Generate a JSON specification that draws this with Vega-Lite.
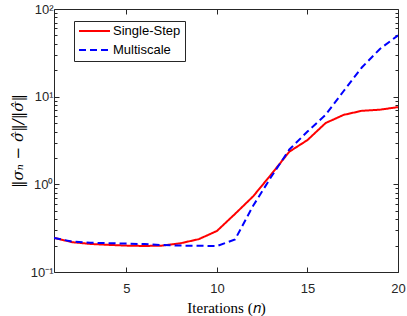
{
  "$schema": "https://vega.github.io/schema/vega-lite/v6.json",
  "width": 344,
  "height": 263,
  "autosize": {"type": "none"},
  "padding": {"left": 54, "top": 9, "right": 9, "bottom": 44},
  "background": "white",
  "config": {
    "view": {"stroke": "#262626", "strokeWidth": 1},
    "axis": {"grid": false, "domainColor": "#262626", "tickColor": "#262626", "labelColor": "#262626", "labelFont": "Liberation Sans", "labelFontSize": 13, "titleColor": "#000000", "titleFontWeight": "normal"}
  },
  "data": {"values": [
    {"n": 1, "series": "Single-Step", "value": 0.245},
    {"n": 2, "series": "Single-Step", "value": 0.219},
    {"n": 3, "series": "Single-Step", "value": 0.209},
    {"n": 4, "series": "Single-Step", "value": 0.204},
    {"n": 5, "series": "Single-Step", "value": 0.200},
    {"n": 6, "series": "Single-Step", "value": 0.198},
    {"n": 7, "series": "Single-Step", "value": 0.200},
    {"n": 8, "series": "Single-Step", "value": 0.213},
    {"n": 9, "series": "Single-Step", "value": 0.237},
    {"n": 10, "series": "Single-Step", "value": 0.294},
    {"n": 11, "series": "Single-Step", "value": 0.46},
    {"n": 12, "series": "Single-Step", "value": 0.73},
    {"n": 13, "series": "Single-Step", "value": 1.3},
    {"n": 14, "series": "Single-Step", "value": 2.36},
    {"n": 15, "series": "Single-Step", "value": 3.2},
    {"n": 16, "series": "Single-Step", "value": 5.0},
    {"n": 17, "series": "Single-Step", "value": 6.2},
    {"n": 18, "series": "Single-Step", "value": 6.9},
    {"n": 19, "series": "Single-Step", "value": 7.1},
    {"n": 20, "series": "Single-Step", "value": 7.6},
    {"n": 1, "series": "Multiscale", "value": 0.245},
    {"n": 2, "series": "Multiscale", "value": 0.222},
    {"n": 3, "series": "Multiscale", "value": 0.216},
    {"n": 4, "series": "Multiscale", "value": 0.213},
    {"n": 5, "series": "Multiscale", "value": 0.211},
    {"n": 6, "series": "Multiscale", "value": 0.208},
    {"n": 7, "series": "Multiscale", "value": 0.203},
    {"n": 8, "series": "Multiscale", "value": 0.200},
    {"n": 9, "series": "Multiscale", "value": 0.199},
    {"n": 10, "series": "Multiscale", "value": 0.198},
    {"n": 11, "series": "Multiscale", "value": 0.235},
    {"n": 12, "series": "Multiscale", "value": 0.57},
    {"n": 13, "series": "Multiscale", "value": 1.22},
    {"n": 14, "series": "Multiscale", "value": 2.5},
    {"n": 15, "series": "Multiscale", "value": 4.0},
    {"n": 16, "series": "Multiscale", "value": 6.2},
    {"n": 17, "series": "Multiscale", "value": 11.6},
    {"n": 18, "series": "Multiscale", "value": 21.5},
    {"n": 19, "series": "Multiscale", "value": 35},
    {"n": 20, "series": "Multiscale", "value": 50}
  ]},
  "layer": [
    {
      "mark": {"type": "line", "strokeWidth": 2, "clip": true},
      "encoding": {
        "x": {"field": "n", "type": "quantitative", "scale": {"domain": [1, 20], "nice": false, "zero": false},
          "axis": {"orient": "bottom", "values": [5, 10, 15, 20], "tickSize": -5, "labelFlush": false, "labelPadding": 15, "domain": false,
            "title": "Iterations (𝑛)", "titleFont": "Liberation Serif", "titleFontSize": 15, "titlePadding": 5}},
        "y": {"field": "value", "type": "quantitative", "scale": {"type": "log", "domain": [0.1, 100], "nice": false},
          "axis": {"orient": "left", "values": [0.1,0.2,0.3,0.4,0.5,0.6,0.7,0.8,0.9,1,2,3,4,5,6,7,8,9,10,20,30,40,50,60,70,80,90,100],
            "labelExpr": "datum.value == 100 ? '10²' : datum.value == 10 ? '10¹' : datum.value == 1 ? '10⁰' : datum.value == 0.1 ? '10⁻¹' : ''",
            "tickSize": {"condition": {"test": "datum.value == 0.1 || datum.value == 1 || datum.value == 10 || datum.value == 100", "value": -5}, "value": -3},
            "labelPadding": 6, "domain": false, "labelFlush": false,
            "title": "‖σₙ − σ̂‖/‖σ̂‖", "titleFont": "DejaVu Serif", "titleFontSize": 15, "titleFontStyle": "italic", "titlePadding": 5}},
        "color": {"field": "series", "type": "nominal", "scale": {"domain": ["Single-Step", "Multiscale"], "range": ["#ff0000", "#0000ff"]},
          "legend": {"orient": "none", "legendX": 20, "legendY": 12, "title": null, "symbolType": "stroke", "symbolSize": 961, "symbolStrokeWidth": 2,
            "clipHeight": 12, "rowPadding": 6, "padding": 4, "labelOffset": 2, "labelFont": "Liberation Sans", "labelFontSize": 13, "labelColor": "#000000",
            "strokeColor": "#262626", "fillColor": "white", "labelLimit": 200}},
        "strokeDash": {"field": "series", "type": "nominal", "scale": {"domain": ["Single-Step", "Multiscale"], "range": [[1, 0], [7, 4]]}}
      }
    },
    {
      "mark": {"type": "line", "opacity": 0},
      "encoding": {
        "x": {"field": "n", "type": "quantitative", "scale": {"domain": [1, 20], "nice": false, "zero": false},
          "axis": {"orient": "top", "values": [5, 10, 15], "tickSize": -5, "labels": false, "domain": false, "title": null}},
        "y": {"field": "value", "type": "quantitative", "scale": {"type": "log", "domain": [0.1, 100], "nice": false},
          "axis": {"orient": "right", "values": [0.1,0.2,0.3,0.4,0.5,0.6,0.7,0.8,0.9,1,2,3,4,5,6,7,8,9,10,20,30,40,50,60,70,80,90,100],
            "labels": false, "domain": false, "title": null,
            "tickSize": {"condition": {"test": "datum.value == 0.1 || datum.value == 1 || datum.value == 10 || datum.value == 100", "value": -5}, "value": -3}}},
        "detail": {"field": "series"}
      }
    }
  ],
  "resolve": {"scale": {"x": "independent", "y": "independent"}}
}
